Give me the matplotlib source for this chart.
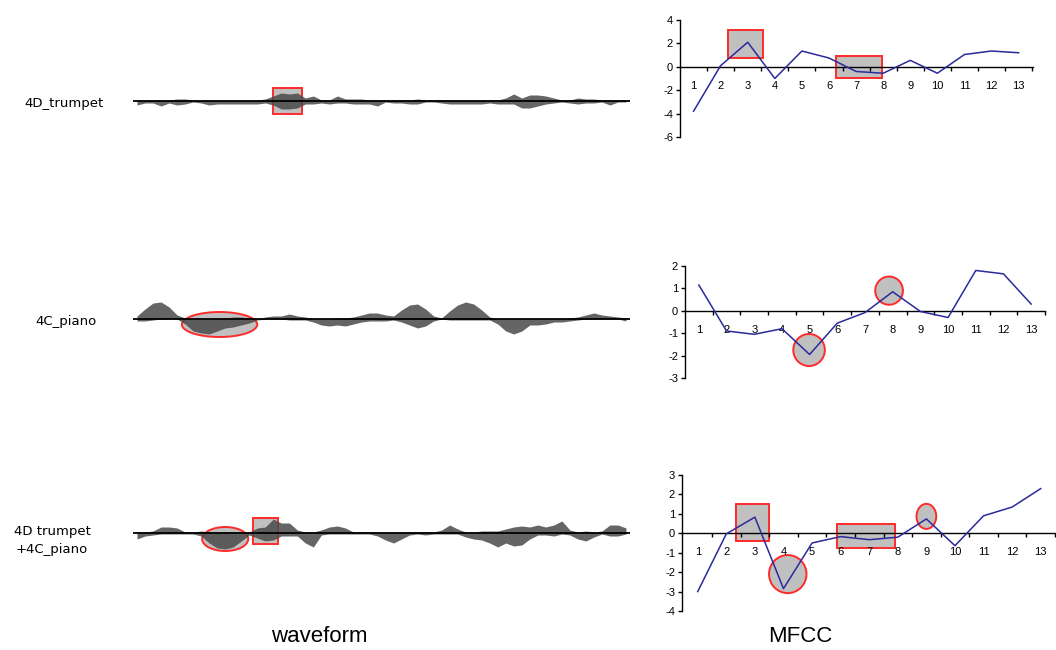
import matplotlib.pyplot as plt
import numpy as np
from matplotlib.patches import Rectangle, Ellipse

plt.rcParams['axes.unicode_minus'] = False

# waveform envelopes, one value per 8-sample block (above / below the zero line)
trumpet_up = [1, 1, 1, 1, 1, 2, 2, 1, 1, 1,
              1, 1, 1, 1, 1, 1, 2, 5, 8, 7,
              8, 3, 5, 1, 1, 5, 2, 2, 2, 1,
              1, 1, 1, 1, 1, 2, 1, 1, 1, 1,
              1, 1, 1, 1, 1, 1, 3, 7, 3, 6,
              6, 5, 3, 1, 1, 3, 2, 2, 1, 1,
              1, 1]
trumpet_dn = [4, 2, 2, 5, 2, 4, 3, 1, 2, 4,
              3, 3, 3, 3, 3, 3, 2, 4, 8, 8,
              7, 3, 3, 2, 3, 2, 2, 3, 3, 3,
              5, 1, 2, 2, 3, 3, 1, 1, 2, 3,
              3, 3, 3, 3, 2, 3, 3, 3, 7, 7,
              5, 3, 2, 1, 2, 3, 2, 2, 1, 4,
              1, 1]

piano_up = [3, 10, 16, 17, 12, 4, 1, 0, 0, 0,
            0, 1, 2, 2, 1, 0, 2, 3, 3, 5,
            3, 2, 0, 0, 0, 1, 1, 2, 4, 6,
            6, 4, 3, 9, 14, 15, 10, 3, 1, 8,
            14, 17, 15, 9, 2, 0, 0, 0, 0, 0,
            0, 0, 0, 0, 1, 2, 4, 6, 4, 3,
            2, 1]
piano_dn = [2, 2, 1, 0, 0, 0, 5, 12, 14, 15,
            12, 9, 8, 6, 4, 1, 0, 0, 0, 1,
            1, 1, 3, 6, 7, 6, 7, 5, 3, 2,
            2, 2, 1, 3, 6, 9, 7, 2, 0, 1,
            1, 1, 1, 1, 1, 5, 12, 15, 12, 6,
            6, 5, 3, 3, 2, 1, 0, 0, 0, 0,
            0, 2]

mix_up = [1, 1, 2, 6, 6, 5, 1, 1, 2, 1,
          1, 1, 1, 1, 1, 5, 6, 14, 10, 10,
          3, 1, 1, 3, 6, 7, 5, 1, 1, 1,
          1, 1, 1, 1, 1, 1, 1, 1, 3, 8,
          4, 1, 1, 2, 2, 2, 4, 6, 7, 6,
          8, 6, 8, 12, 3, 1, 2, 1, 2, 8,
          8, 5]
mix_dn = [6, 3, 2, 1, 1, 1, 1, 1, 3, 10,
          15, 16, 14, 8, 2, 5, 8, 7, 3, 3,
          3, 10, 14, 2, 1, 1, 1, 1, 1, 1,
          3, 7, 10, 6, 2, 1, 2, 1, 1, 1,
          1, 4, 6, 7, 10, 14, 10, 13, 12, 6,
          2, 2, 3, 1, 2, 6, 8, 4, 1, 3,
          3, 1]

# 13 MFCC coefficients per sound
coef = list(range(1, 14))
mfcc_trumpet = [-3.8, 0.1, 2.1, -1.0, 1.35, 0.75, -0.4, -0.55, 0.55, -0.55, 1.05, 1.35, 1.2]
mfcc_piano = [1.15, -0.9, -1.05, -0.8, -1.95, -0.55, -0.08, 0.85, -0.03, -0.3, 1.8, 1.65, 0.3]
mfcc_mix = [-3.0, -0.03, 0.83, -2.85, -0.5, -0.17, -0.33, -0.2, 0.74, -0.64, 0.9, 1.35, 2.3]

row_labels = ['4D_trumpet', '4C_piano', '4D trumpet\n+4C_piano']

# highlighted regions: ('rect', x0, x1, y0, y1) or ('oval', cx, cy, w, h)
wave_marks = [
    [('rect', 17.5, 21.1, -13, 13)],
    [('oval', 10.8, -5.5, 9.4, 25)],
    [('oval', 11.5, -6, 5.75, 24), ('rect', 15.0, 18.1, -11, 15)],
]
mfcc_marks = [
    [('rect', 2.27, 3.56, 0.77, 3.15), ('rect', 6.26, 7.96, -0.94, 0.94)],
    [('oval', 4.98, -1.75, 1.14, 1.43), ('oval', 7.87, 0.9, 1.0, 1.26)],
    [('rect', 2.35, 3.5, -0.41, 1.5), ('rect', 5.88, 7.89, -0.75, 0.5),
     ('oval', 4.15, -2.1, 1.31, 1.96), ('oval', 9.0, 0.87, 0.69, 1.29)],
]

waves = [(trumpet_up, trumpet_dn), (piano_up, piano_dn), (mix_up, mix_dn)]
mfccs = [mfcc_trumpet, mfcc_piano, mfcc_mix]

W, H = 1056, 650
fig = plt.figure(figsize=(W / 100, H / 100), dpi=100)


def px_axes(x0, x1, y0, y1):
    return fig.add_axes([x0 / W, 1 - y1 / H, (x1 - x0) / W, (y1 - y0) / H])


def draw_marks(ax, marks):
    for m in marks:
        if m[0] == 'rect':
            _, a, b, c, d = m
            ax.add_patch(Rectangle((a, c), b - a, d - c, fc='#c0c0c0', ec='#ff2a2a', lw=1.4, zorder=1))
        else:
            _, cx, cy, w, h = m
            ax.add_patch(Ellipse((cx, cy), w, h, fc='#c0c0c0', ec='#ff2a2a', lw=1.4, zorder=1))


# waveforms
wave_centres = [101, 319, 533]
label_pos = [(64, 103), (66, 322), (52, 540)]
for k in range(3):
    up, dn = waves[k]
    cy = wave_centres[k]
    ax = px_axes(133, 630, cy - 30, cy + 30)
    xs = np.arange(len(up)) + 0.5
    draw_marks(ax, wave_marks[k])
    ax.fill_between(xs, np.array(up), -np.array(dn), color='#4a4a4a', lw=0, alpha=0.85, zorder=2)
    ax.axhline(0, color='black', lw=1.3, zorder=3)
    ax.set_xlim(0, len(up))
    ax.set_ylim(-30, 30)
    ax.axis('off')
    lx, ly = label_pos[k]
    fig.text(lx / W, 1 - ly / H, row_labels[k], ha='center', va='center',
             fontsize=9.5, family='DejaVu Sans', linespacing=1.5)

# MFCC line charts: (left px, right px, top px, bottom px, ymin, ymax, xmin, xmax, ytick step)
boxes = [(680, 1033, 20, 137, -6, 4, 0.5, 13.53, 2),
         (685, 1045, 266, 378, -3, 2, 0.5, 13.3, 1),
         (682, 1055, 475, 611, -4, 3, 0.45, 13.35, 1)]
for k in range(3):
    x0, x1, y0, y1, lo, hi, xa, xb, step = boxes[k]
    ax = px_axes(x0, x1, y0, y1)
    draw_marks(ax, mfcc_marks[k])
    ax.plot(coef, mfccs[k], color='#2a2a9c', lw=1.1, zorder=3)
    ax.set_xlim(xa, xb)
    ax.set_ylim(lo, hi)
    ax.spines['top'].set_visible(False)
    ax.spines['right'].set_visible(False)
    ax.spines['bottom'].set_position(('data', 0))
    ax.spines['left'].set_linewidth(1.0)
    ax.spines['bottom'].set_linewidth(1.0)
    ax.set_yticks(np.arange(lo, hi + 1, step))
    ax.set_xticks(np.arange(1.5, 13.6, 1))
    ax.set_xticklabels([])
    ax.set_xticks(coef, minor=True)
    ax.set_xticklabels([str(c) for c in coef], minor=True)
    ax.tick_params(axis='x', which='major', direction='out', length=3, width=1)
    ax.tick_params(axis='x', which='minor', length=0, pad=10, labelsize=8)
    ax.tick_params(axis='y', direction='out', length=3, width=1, labelsize=8, pad=2)
    ax.set_facecolor('none')
    for t in ax.get_xticklabels(minor=True) + ax.get_yticklabels():
        t.set_family('Liberation Sans')

fig.text(319 / W, 1 - 637 / H, 'waveform', ha='center', va='center', fontsize=16, family='Liberation Sans')
fig.text(800 / W, 1 - 637 / H, 'MFCC', ha='center', va='center', fontsize=16, family='Liberation Sans')

fig.savefig('out.png', dpi=100)
